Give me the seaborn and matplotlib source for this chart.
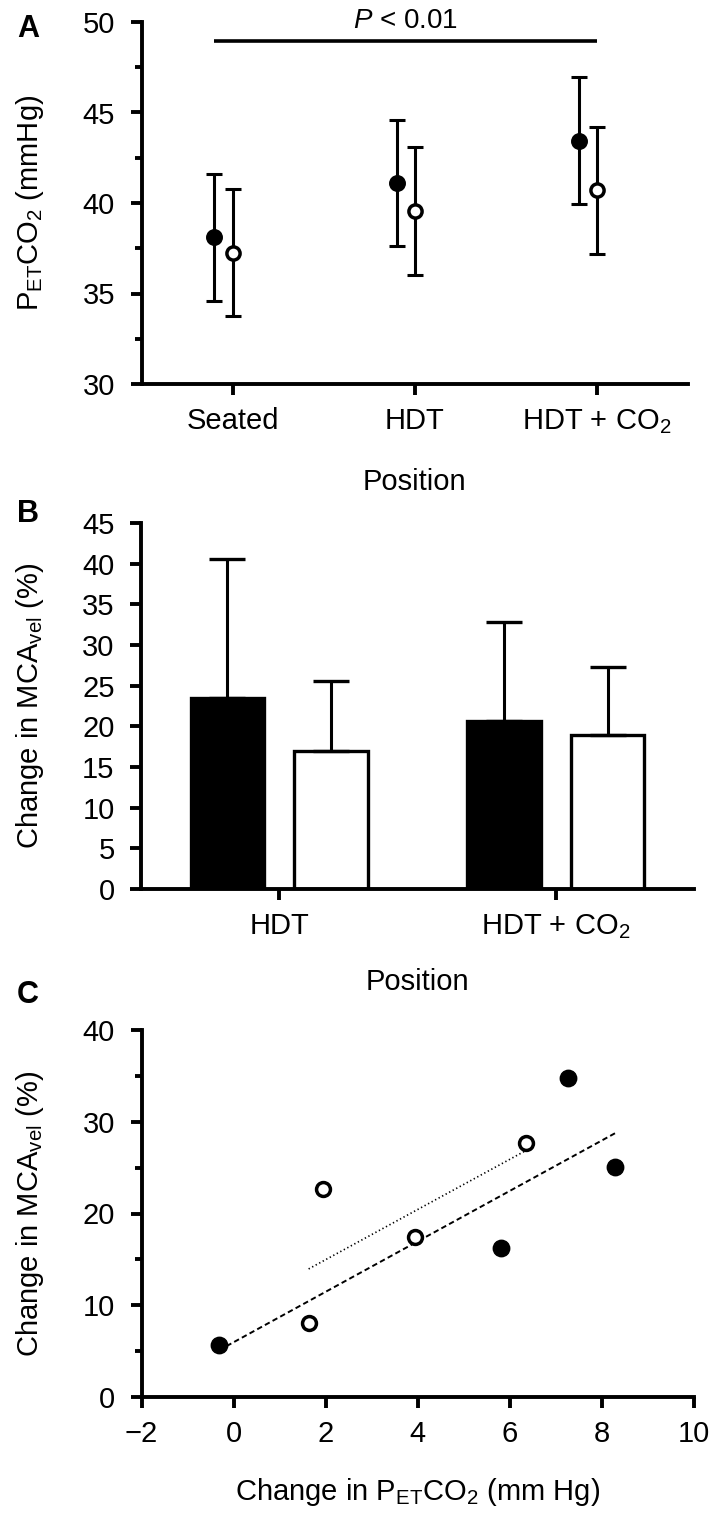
import numpy as np
import pandas as pd
import matplotlib
matplotlib.use("Agg")
import matplotlib.pyplot as plt
import seaborn as sns
from matplotlib.ticker import MultipleLocator

# ---------------- Data ----------------
# Panel A: PETCO2 (mmHg) by position, mean +/- SD
positions_a = ["Seated", "HDT", "HDT + CO$_2$"]
petco2_filled_mean = [38.1, 41.1, 43.45]
petco2_filled_sd = [3.5, 3.5, 3.5]
petco2_open_mean = [37.25, 39.55, 40.7]
petco2_open_sd = [3.5, 3.55, 3.5]

# Panel B: change in MCAvel (%), mean + SD
positions_b = ["HDT", "HDT + CO$_2$"]
mca_filled_mean = [23.5, 20.6]
mca_filled_sd = [17.1, 12.2]
mca_open_mean = [17.0, 18.9]
mca_open_sd = [8.6, 8.4]

# Panel C: individual change in PETCO2 vs change in MCAvel
filled_dpet = [-0.32, 5.81, 7.27, 8.29]
filled_dmca = [5.7, 16.2, 34.75, 25.1]
open_dpet = [1.63, 1.95, 3.94, 6.36]
open_dmca = [8.1, 22.65, 17.48, 27.73]

# ---------------- Style ----------------
sns.set_style("ticks")
FONT = "Liberation Sans"
plt.rcParams["font.family"] = [FONT, "DejaVu Sans"]
plt.rcParams["mathtext.fontset"] = "custom"
plt.rcParams["mathtext.rm"] = FONT
plt.rcParams["mathtext.it"] = FONT + ":italic"
plt.rcParams["mathtext.default"] = "regular"
for k in ("text.color", "axes.labelcolor", "xtick.color", "ytick.color", "axes.edgecolor"):
    plt.rcParams[k] = "black"

FS = 21
LW = 2.8

fig = plt.figure(figsize=(7.09, 15.17), dpi=100)
W, H = 709, 1517


def add_ax(left, right, top, bottom):
    return fig.add_axes([left / W, 1 - bottom / H, (right - left) / W, (bottom - top) / H])


def style_ax(ax):
    sns.despine(ax=ax)
    for s in ("left", "bottom"):
        ax.spines[s].set_linewidth(LW)
        ax.spines[s].set_color("black")
    ax.tick_params(axis="both", which="major", direction="out", length=8, width=LW,
                   labelsize=FS, colors="black")
    ax.tick_params(axis="y", which="minor", direction="out", length=5, width=LW)
    ax.tick_params(axis="y", pad=11)
    ax.tick_params(axis="x", pad=8.5)
    ax.set_facecolor("white")


# ---------------- Panel A ----------------
axA = add_ax(141.5, 688, 22, 384)
xa = np.arange(len(positions_a))
axA.errorbar(xa - 0.1, petco2_filled_mean, yerr=petco2_filled_sd, fmt="none",
             ecolor="black", elinewidth=2.2, capsize=6, capthick=2.2, zorder=2)
axA.errorbar(xa, petco2_open_mean, yerr=petco2_open_sd, fmt="none",
             ecolor="black", elinewidth=2.2, capsize=6, capthick=2.2, zorder=2)
sns.scatterplot(x=xa - 0.1, y=petco2_filled_mean, ax=axA, color="black", s=125,
                edgecolor="black", linewidth=1, zorder=3)
sns.scatterplot(x=xa, y=petco2_open_mean, ax=axA, color="white", s=90,
                edgecolor="black", linewidth=2.5, zorder=3)
axA.set_xlim(-0.5, 2.5)
axA.set_ylim(30, 50)
axA.set_yticks([30, 35, 40, 45, 50])
axA.yaxis.set_minor_locator(MultipleLocator(2.5))
axA.set_xticks(xa)
axA.set_xticklabels(positions_a)
style_ax(axA)
axA.plot([-0.1, 2.0], [48.97, 48.97], color="black", lw=2.6, clip_on=False,
         solid_capstyle="butt")
axA.text(0.95, 49.65, "$\\it{P}$ < 0.01", ha="center", va="baseline", fontsize=20)
axA.set_ylabel("P$_{ET}$CO$_2$ (mmHg)", fontsize=FS)
axA.set_xlabel("Position", fontsize=FS)
axA.yaxis.set_label_coords(-0.175, 0.5)
axA.xaxis.set_label_coords(0.5, -0.232)

# ---------------- Panel B ----------------
axB = add_ax(141, 694, 523, 889)
df_b = pd.DataFrame({
    "Position": positions_b * 2,
    "Group": ["filled"] * len(positions_b) + ["open"] * len(positions_b),
    "Change": mca_filled_mean + mca_open_mean,
})
sns.barplot(data=df_b, x="Position", y="Change", hue="Group",
            palette={"filled": "black", "open": "white"}, edgecolor="black",
            linewidth=2.4, width=0.75, gap=0.29, legend=False, errorbar=None, ax=axB)
bars = sorted(axB.patches, key=lambda p: p.get_x())
sds_b = [mca_filled_sd[0], mca_open_sd[0], mca_filled_sd[1], mca_open_sd[1]]
for p, sd in zip(bars, sds_b):
    cx = p.get_x() + p.get_width() / 2
    h = p.get_height()
    axB.errorbar([cx], [h], yerr=[[0], [sd]], fmt="none", ecolor="black",
                 elinewidth=2.2, capsize=13, capthick=2.4, zorder=1)
axB.set_xlim(-0.5, 1.5)
axB.set_ylim(0, 45)
axB.set_yticks(np.arange(0, 46, 5))
style_ax(axB)
axB.set_ylabel("Change in MCA$_{vel}$ (%)", fontsize=FS)
axB.set_xlabel("Position", fontsize=FS)
axB.yaxis.set_label_coords(-0.172, 0.5)
axB.xaxis.set_label_coords(0.5, -0.216)

# ---------------- Panel C ----------------
axC = add_ax(141.5, 694, 1030, 1397)
sns.regplot(x=filled_dpet, y=filled_dmca, ax=axC, scatter=False, ci=None, truncate=True,
            color="black", line_kws=dict(ls=(0, (2.8, 1.7)), lw=1.4))
sns.regplot(x=open_dpet, y=open_dmca, ax=axC, scatter=False, ci=None, truncate=True,
            color="black", line_kws=dict(ls=(0, (0.8, 1.6)), lw=1.2))
sns.scatterplot(x=filled_dpet, y=filled_dmca, ax=axC, color="black", s=140,
                edgecolor="black", linewidth=1, zorder=3)
sns.scatterplot(x=open_dpet, y=open_dmca, ax=axC, color="white", s=100,
                edgecolor="black", linewidth=2.5, zorder=3)
axC.set_xlim(-2, 10)
axC.set_ylim(0, 40)
axC.set_xticks(np.arange(-2, 11, 2))
axC.set_xticklabels(["\u22122" if v < 0 else str(v) for v in np.arange(-2, 11, 2)])
axC.set_yticks([0, 10, 20, 30, 40])
axC.yaxis.set_minor_locator(MultipleLocator(5))
style_ax(axC)
axC.set_ylabel("Change in MCA$_{vel}$ (%)", fontsize=FS)
axC.set_xlabel("Change in P$_{ET}$CO$_2$ (mm Hg)", fontsize=FS)
axC.yaxis.set_label_coords(-0.172, 0.5)
axC.xaxis.set_label_coords(0.5, -0.215)

# ---------------- Panel letters ----------------
for letter, yc in (("A", 29), ("B", 514), ("C", 995)):
    fig.text(28 / W, 1 - yc / H, letter, ha="center", va="center", fontsize=22,
             fontweight="bold", family=["Liberation Sans", "DejaVu Sans"])

fig.savefig("out.png", dpi=100, facecolor="white")
